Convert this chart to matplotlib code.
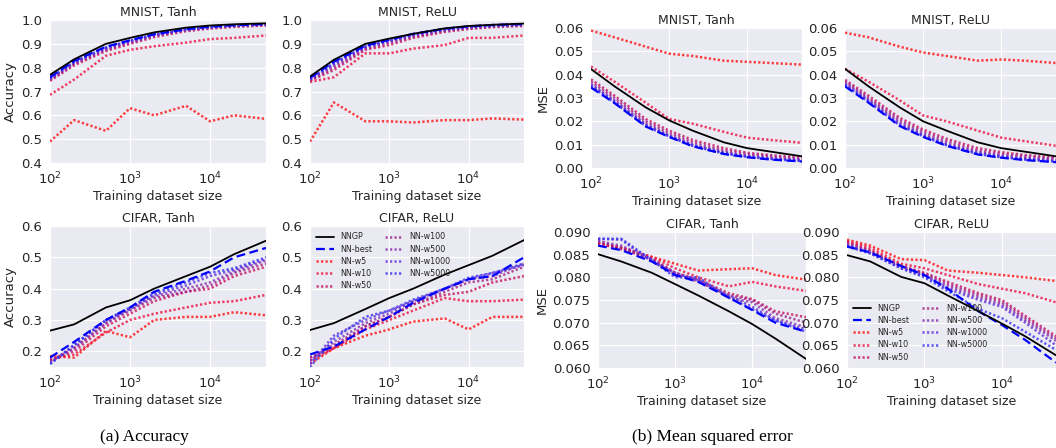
import matplotlib
matplotlib.use("Agg")
import matplotlib.pyplot as plt
import seaborn as sns
from matplotlib.ticker import FormatStrFormatter

sns.set_style("darkgrid")
plt.rcParams["font.family"] = ["DejaVu Sans"]

# Training set sizes
sizes = [100, 200, 500, 1000, 2000, 5000, 10000, 20000, 50000]

labels = ["NNGP", "NN-best", "NN-w5", "NN-w10", "NN-w50",
          "NN-w100", "NN-w500", "NN-w1000", "NN-w5000"]

# Accuracy, MNIST Tanh
acc_mnist_tanh = {
    "NNGP":     [0.770, 0.835, 0.900, 0.925, 0.948, 0.968, 0.977, 0.982, 0.986],
    "NN-best":  [0.760, 0.828, 0.888, 0.915, 0.940, 0.961, 0.972, 0.978, 0.983],
    "NN-w5":    [0.490, 0.580, 0.535, 0.630, 0.600, 0.640, 0.575, 0.600, 0.585],
    "NN-w10":   [0.686, 0.750, 0.850, 0.875, 0.890, 0.905, 0.920, 0.925, 0.935],
    "NN-w50":   [0.745, 0.810, 0.870, 0.900, 0.928, 0.953, 0.964, 0.971, 0.977],
    "NN-w100":  [0.748, 0.815, 0.875, 0.905, 0.933, 0.957, 0.967, 0.974, 0.979],
    "NN-w500":  [0.752, 0.820, 0.880, 0.909, 0.936, 0.959, 0.969, 0.976, 0.981],
    "NN-w1000": [0.755, 0.822, 0.882, 0.911, 0.938, 0.960, 0.970, 0.977, 0.982],
    "NN-w5000": [0.757, 0.825, 0.885, 0.913, 0.939, 0.961, 0.971, 0.978, 0.983],
}

# Accuracy, MNIST ReLU
acc_mnist_relu = {
    "NNGP":     [0.763, 0.833, 0.900, 0.922, 0.942, 0.965, 0.975, 0.980, 0.985],
    "NN-best":  [0.757, 0.825, 0.892, 0.917, 0.942, 0.963, 0.973, 0.979, 0.983],
    "NN-w5":    [0.490, 0.654, 0.575, 0.575, 0.570, 0.580, 0.580, 0.587, 0.582],
    "NN-w10":   [0.740, 0.760, 0.860, 0.860, 0.880, 0.895, 0.925, 0.925, 0.935],
    "NN-w50":   [0.745, 0.790, 0.875, 0.895, 0.925, 0.950, 0.962, 0.970, 0.975],
    "NN-w100":  [0.748, 0.800, 0.880, 0.905, 0.930, 0.955, 0.966, 0.973, 0.978],
    "NN-w500":  [0.750, 0.810, 0.885, 0.910, 0.935, 0.958, 0.968, 0.975, 0.980],
    "NN-w1000": [0.752, 0.815, 0.888, 0.912, 0.937, 0.960, 0.970, 0.976, 0.981],
    "NN-w5000": [0.755, 0.820, 0.890, 0.915, 0.940, 0.962, 0.972, 0.978, 0.982],
}

# Accuracy, CIFAR Tanh
acc_cifar_tanh = {
    "NNGP":     [0.266, 0.286, 0.340, 0.363, 0.400, 0.440, 0.470, 0.510, 0.553],
    "NN-best":  [0.180, 0.230, 0.300, 0.340, 0.390, 0.425, 0.455, 0.500, 0.530],
    "NN-w5":    [0.185, 0.180, 0.265, 0.245, 0.300, 0.310, 0.310, 0.325, 0.315],
    "NN-w10":   [0.175, 0.190, 0.260, 0.300, 0.320, 0.340, 0.355, 0.360, 0.380],
    "NN-w50":   [0.170, 0.200, 0.280, 0.320, 0.360, 0.390, 0.400, 0.440, 0.470],
    "NN-w100":  [0.170, 0.210, 0.290, 0.330, 0.370, 0.390, 0.410, 0.450, 0.480],
    "NN-w500":  [0.165, 0.210, 0.290, 0.335, 0.375, 0.400, 0.420, 0.455, 0.490],
    "NN-w1000": [0.160, 0.220, 0.300, 0.335, 0.380, 0.410, 0.440, 0.460, 0.495],
    "NN-w5000": [0.160, 0.220, 0.300, 0.340, 0.385, 0.420, 0.450, 0.465, 0.500],
}

# Accuracy, CIFAR ReLU
acc_cifar_relu = {
    "NNGP":     [0.268, 0.290, 0.335, 0.370, 0.400, 0.445, 0.475, 0.505, 0.555],
    "NN-best":  [0.190, 0.215, 0.270, 0.310, 0.355, 0.400, 0.430, 0.440, 0.500],
    "NN-w5":    [0.160, 0.210, 0.250, 0.270, 0.295, 0.305, 0.270, 0.310, 0.310],
    "NN-w10":   [0.170, 0.210, 0.270, 0.300, 0.330, 0.370, 0.360, 0.360, 0.365],
    "NN-w50":   [0.180, 0.210, 0.280, 0.310, 0.350, 0.380, 0.390, 0.420, 0.440],
    "NN-w100":  [0.180, 0.220, 0.280, 0.310, 0.350, 0.390, 0.420, 0.430, 0.470],
    "NN-w500":  [0.170, 0.230, 0.290, 0.320, 0.360, 0.400, 0.430, 0.440, 0.480],
    "NN-w1000": [0.160, 0.250, 0.300, 0.330, 0.360, 0.400, 0.430, 0.450, 0.475],
    "NN-w5000": [0.150, 0.240, 0.310, 0.330, 0.365, 0.400, 0.435, 0.450, 0.480],
}

# MSE, MNIST Tanh
mse_mnist_tanh = {
    "NNGP":     [0.0424, 0.0350, 0.0260, 0.0204, 0.0160, 0.0110, 0.0085, 0.0070, 0.0050],
    "NN-best":  [0.0345, 0.0278, 0.0178, 0.0133, 0.0093, 0.0060, 0.0046, 0.0036, 0.0028],
    "NN-w5":    [0.0589, 0.0560, 0.0520, 0.0490, 0.0480, 0.0460, 0.0455, 0.0450, 0.0443],
    "NN-w10":   [0.0435, 0.0370, 0.0280, 0.0210, 0.0190, 0.0155, 0.0130, 0.0120, 0.0108],
    "NN-w50":   [0.0380, 0.0310, 0.0210, 0.0160, 0.0120, 0.0085, 0.0065, 0.0055, 0.0045],
    "NN-w100":  [0.0370, 0.0300, 0.0200, 0.0150, 0.0110, 0.0075, 0.0060, 0.0050, 0.0040],
    "NN-w500":  [0.0360, 0.0290, 0.0190, 0.0140, 0.0100, 0.0068, 0.0052, 0.0042, 0.0035],
    "NN-w1000": [0.0355, 0.0285, 0.0185, 0.0138, 0.0098, 0.0065, 0.0050, 0.0040, 0.0032],
    "NN-w5000": [0.0350, 0.0280, 0.0180, 0.0135, 0.0095, 0.0062, 0.0048, 0.0038, 0.0030],
}

# MSE, MNIST ReLU
mse_mnist_relu = {
    "NNGP":     [0.0425, 0.0350, 0.0260, 0.0200, 0.0160, 0.0110, 0.0085, 0.0070, 0.0050],
    "NN-best":  [0.0350, 0.0280, 0.0180, 0.0133, 0.0095, 0.0058, 0.0044, 0.0034, 0.0025],
    "NN-w5":    [0.0580, 0.0560, 0.0520, 0.0495, 0.0480, 0.0460, 0.0465, 0.0460, 0.0450],
    "NN-w10":   [0.0425, 0.0370, 0.0290, 0.0225, 0.0200, 0.0160, 0.0130, 0.0115, 0.0095],
    "NN-w50":   [0.0378, 0.0310, 0.0215, 0.0165, 0.0125, 0.0085, 0.0068, 0.0056, 0.0045],
    "NN-w100":  [0.0372, 0.0300, 0.0205, 0.0155, 0.0115, 0.0075, 0.0060, 0.0050, 0.0040],
    "NN-w500":  [0.0365, 0.0293, 0.0195, 0.0145, 0.0105, 0.0068, 0.0053, 0.0043, 0.0034],
    "NN-w1000": [0.0360, 0.0288, 0.0188, 0.0140, 0.0100, 0.0064, 0.0049, 0.0039, 0.0030],
    "NN-w5000": [0.0355, 0.0283, 0.0183, 0.0136, 0.0097, 0.0060, 0.0046, 0.0036, 0.0027],
}

# MSE, CIFAR Tanh
mse_cifar_tanh = {
    "NNGP":     [0.0851, 0.0835, 0.0810, 0.0785, 0.0760, 0.0725, 0.0697, 0.0665, 0.0620],
    "NN-best":  [0.0870, 0.0860, 0.0835, 0.0805, 0.0790, 0.0755, 0.0728, 0.0700, 0.0680],
    "NN-w5":    [0.0875, 0.0865, 0.0845, 0.0830, 0.0815, 0.0818, 0.0820, 0.0805, 0.0795],
    "NN-w10":   [0.0875, 0.0865, 0.0845, 0.0820, 0.0800, 0.0780, 0.0790, 0.0780, 0.0770],
    "NN-w50":   [0.0875, 0.0862, 0.0840, 0.0810, 0.0795, 0.0765, 0.0752, 0.0725, 0.0712],
    "NN-w100":  [0.0880, 0.0865, 0.0840, 0.0810, 0.0790, 0.0760, 0.0750, 0.0720, 0.0700],
    "NN-w500":  [0.0880, 0.0870, 0.0840, 0.0805, 0.0795, 0.0755, 0.0745, 0.0710, 0.0690],
    "NN-w1000": [0.0885, 0.0883, 0.0835, 0.0810, 0.0793, 0.0760, 0.0735, 0.0705, 0.0685],
    "NN-w5000": [0.0885, 0.0885, 0.0838, 0.0800, 0.0800, 0.0755, 0.0730, 0.0705, 0.0680],
}

# MSE, CIFAR ReLU
mse_cifar_relu = {
    "NNGP":     [0.0849, 0.0835, 0.0801, 0.0787, 0.0760, 0.0725, 0.0698, 0.0670, 0.0628],
    "NN-best":  [0.0868, 0.0855, 0.0825, 0.0805, 0.0775, 0.0725, 0.0695, 0.0662, 0.0612],
    "NN-w5":    [0.0883, 0.0870, 0.0840, 0.0838, 0.0815, 0.0810, 0.0805, 0.0800, 0.0792],
    "NN-w10":   [0.0880, 0.0865, 0.0830, 0.0820, 0.0805, 0.0785, 0.0775, 0.0765, 0.0745],
    "NN-w50":   [0.0878, 0.0860, 0.0825, 0.0810, 0.0790, 0.0765, 0.0750, 0.0715, 0.0670],
    "NN-w100":  [0.0875, 0.0858, 0.0825, 0.0808, 0.0785, 0.0760, 0.0745, 0.0710, 0.0665],
    "NN-w500":  [0.0872, 0.0855, 0.0823, 0.0805, 0.0780, 0.0755, 0.0740, 0.0705, 0.0660],
    "NN-w1000": [0.0870, 0.0853, 0.0820, 0.0803, 0.0775, 0.0750, 0.0735, 0.0700, 0.0650],
    "NN-w5000": [0.0868, 0.0853, 0.0820, 0.0800, 0.0770, 0.0730, 0.0710, 0.0680, 0.0640],
}

# Farbverlauf rot -> blau fuer die Netzbreiten
width_colors = {
    "NN-w5": "#ff1010",
    "NN-w10": "#ee1040",
    "NN-w50": "#c81060",
    "NN-w100": "#a02088",
    "NN-w500": "#8830b0",
    "NN-w1000": "#6030d8",
    "NN-w5000": "#3a30f0",
}

W, H = 1056, 448


def px_axes(fig, left, top, right, bottom):
    return fig.add_axes([left / W, 1 - bottom / H, (right - left) / W, (bottom - top) / H])


def draw_panel(ax, data, title):
    for name in labels:
        y = data[name]
        if name == "NNGP":
            ax.plot(sizes, y, color="black", lw=1.3, label=name, zorder=5)
        elif name == "NN-best":
            ax.plot(sizes, y, color="#0000ff", lw=1.6, ls=(0, (4, 2)), label=name, zorder=4)
        else:
            ax.plot(sizes, y, color=width_colors[name], lw=1.8, ls=(0, (0.9, 0.9)),
                    alpha=0.8, label=name, zorder=3)
    ax.set_xscale("log")
    ax.set_xlim(100, 50000)
    ax.set_title(title, fontsize=9, color=".15", pad=3)
    ax.set_xlabel("Training dataset size", fontsize=9, color=".15", labelpad=2)
    ax.tick_params(labelsize=9.5, colors=".15", pad=2)


fig = plt.figure(figsize=(W / 100, H / 100), dpi=100)

ax1 = px_axes(fig, 50, 20, 266, 163)
draw_panel(ax1, acc_mnist_tanh, "MNIST, Tanh")
ax2 = px_axes(fig, 310, 20, 524, 163)
draw_panel(ax2, acc_mnist_relu, "MNIST, ReLU")
for ax in (ax1, ax2):
    ax.set_ylim(0.4, 1.0)
    ax.set_yticks([0.4, 0.5, 0.6, 0.7, 0.8, 0.9, 1.0])
    ax.yaxis.set_major_formatter(FormatStrFormatter("%.1f"))

ax3 = px_axes(fig, 50, 226, 266, 367)
draw_panel(ax3, acc_cifar_tanh, "CIFAR, Tanh")
ax4 = px_axes(fig, 310, 226, 524, 367)
draw_panel(ax4, acc_cifar_relu, "CIFAR, ReLU")
for ax in (ax3, ax4):
    ax.set_ylim(0.15, 0.6)
    ax.set_yticks([0.2, 0.3, 0.4, 0.5, 0.6])
    ax.yaxis.set_major_formatter(FormatStrFormatter("%.1f"))
ax1.set_ylabel("Accuracy", fontsize=9.5, color=".15", labelpad=3)
ax3.set_ylabel("Accuracy", fontsize=9.5, color=".15", labelpad=3)
ax4.legend(loc="upper left", ncol=2, fontsize=5.8, frameon=False,
           handlelength=2.2, columnspacing=1.5, labelspacing=0.4,
           borderaxespad=0.4)

ax5 = px_axes(fig, 591, 28, 802, 168)
draw_panel(ax5, mse_mnist_tanh, "MNIST, Tanh")
ax6 = px_axes(fig, 845, 28, 1056, 168)
draw_panel(ax6, mse_mnist_relu, "MNIST, ReLU")
for ax in (ax5, ax6):
    ax.set_ylim(0.0, 0.06)
    ax.set_yticks([0.0, 0.01, 0.02, 0.03, 0.04, 0.05, 0.06])
    ax.yaxis.set_major_formatter(FormatStrFormatter("%.2f"))

ax7 = px_axes(fig, 598, 232, 806, 368)
draw_panel(ax7, mse_cifar_tanh, "CIFAR, Tanh")
ax8 = px_axes(fig, 847, 232, 1056, 368)
draw_panel(ax8, mse_cifar_relu, "CIFAR, ReLU")
for ax in (ax7, ax8):
    ax.set_ylim(0.06, 0.09)
    ax.set_yticks([0.060, 0.065, 0.070, 0.075, 0.080, 0.085, 0.090])
    ax.yaxis.set_major_formatter(FormatStrFormatter("%.3f"))
ax5.set_ylabel("MSE", fontsize=9.5, color=".15", labelpad=3)
ax7.set_ylabel("MSE", fontsize=9.5, color=".15", labelpad=3)
ax8.legend(loc="lower left", ncol=2, fontsize=5.8, frameon=False,
           handlelength=2.2, columnspacing=1.5, labelspacing=0.4,
           borderaxespad=0.4)

fig.text(144 / W, 1 - 437 / H, "(a) Accuracy", ha="center", va="center",
         fontsize=12.5, family="Liberation Serif", color="black")
fig.text(712 / W, 1 - 437 / H, "(b) Mean squared error", ha="center", va="center",
         fontsize=12.5, family="Liberation Serif", color="black")

fig.savefig("out.png", dpi=100)
